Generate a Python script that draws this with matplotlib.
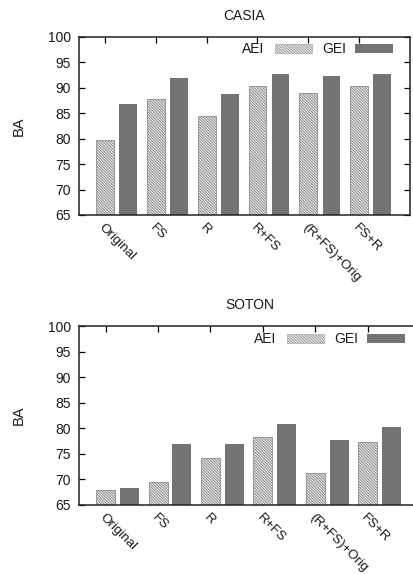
import numpy as np
import matplotlib
matplotlib.use("Agg")
import matplotlib.pyplot as plt
from matplotlib.patches import Patch

plt.rcParams['font.family'] = ['Liberation Sans', 'DejaVu Sans']
plt.rcParams['hatch.linewidth'] = 0.8
plt.rcParams['hatch.color'] = '#5a5a5a'

# datos
categorias = ["Original", "FS", "R", "R+FS", "(R+FS)+Orig", "FS+R"]
casia_aei = [79.8, 87.8, 84.4, 90.3, 88.9, 90.3]
casia_gei = [86.9, 92.0, 88.8, 92.8, 92.4, 92.7]
soton_aei = [67.9, 69.4, 74.1, 78.3, 71.2, 77.4]
soton_gei = [68.4, 76.9, 77.0, 80.8, 77.8, 80.2]
yticks = [65, 70, 75, 80, 85, 90, 95, 100]

gris = '#737373'
texto = '#1a1a1a'
rayado = '\\' * 12

fig = plt.figure(figsize=(4.14, 5.74), dpi=100)

# posiciones de los ejes en fraccion de figura
ax1 = fig.add_axes([79/414, 1-215/574, 331/414, 178/574])
ax2 = fig.add_axes([79/414, 1-505/574, 341/414, 179/574])


def grafico(ax, titulo, aei, gei, ancho, leg_x, leg_y):
    x = np.arange(len(categorias))
    ax.set_axisbelow(True)
    ax.bar(x, aei, ancho, facecolor='white', edgecolor='#8c8c8c',
           hatch=rayado, linewidth=0.6)
    ax.bar(x + 0.455, gei, ancho, color=gris, linewidth=0)
    ax.set_ylim(65, 100)
    ax.set_xlim(-0.51, 6.0)
    ax.set_yticks(yticks)
    ax.set_xticks(x)
    ax.set_xticklabels(categorias, rotation=-45, ha='left', va='top',
                       rotation_mode='anchor', fontsize=9.6, color=texto)
    ax.tick_params(axis='y', direction='in', length=4, width=0.9, right=True,
                   labelsize=10, labelcolor=texto, pad=6)
    ax.tick_params(axis='x', direction='in', length=4, width=0.9, top=True,
                   pad=5)
    for s in ax.spines.values():
        s.set_linewidth(1.1)
        s.set_color('#222222')
    ax.set_title(titulo, fontsize=10, color=texto, pad=12)
    ax.set_ylabel("BA", fontsize=10.5, color=texto)
    handles = [Patch(facecolor='white', edgecolor='#9a9a9a', hatch=rayado,
                     linewidth=0.4),
               Patch(facecolor=gris, linewidth=0)]
    ax.legend(handles, ["AEI", "GEI"], ncol=2, markerfirst=False, frameon=False,
              loc='upper right', bbox_to_anchor=(leg_x, leg_y), borderaxespad=0,
              borderpad=0, handlelength=2.7, handleheight=0.55,
              handletextpad=0.7, columnspacing=0.7, fontsize=10,
              labelcolor=texto)


grafico(ax1, "CASIA", casia_aei, casia_gei, 0.35, 0.9486, 0.97)
grafico(ax2, "SOTON", soton_aei, soton_gei, 0.36, 0.956, 0.965)
ax1.yaxis.set_label_coords(-0.16, 0.5)
ax2.yaxis.set_label_coords(-0.155, 0.5)

fig.savefig("out.png", dpi=100)
